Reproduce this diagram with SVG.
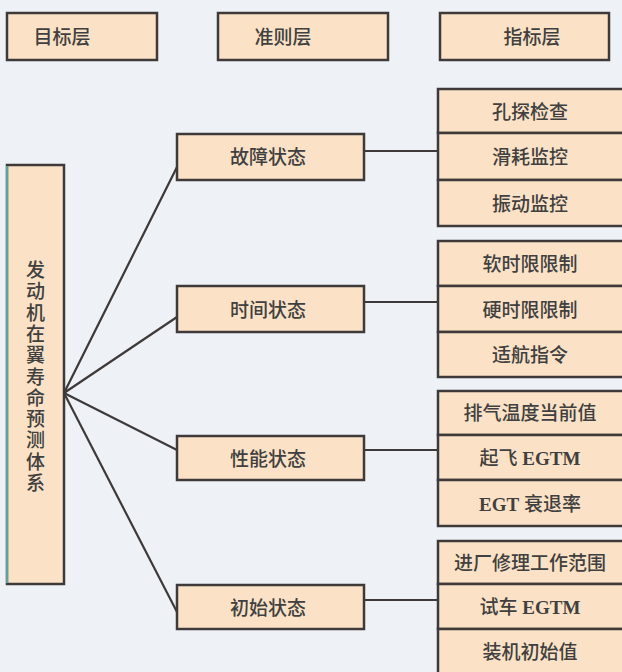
<svg xmlns="http://www.w3.org/2000/svg" width="622" height="672" viewBox="0 0 622 672">
<style>
.box{fill:#fbe2c6;stroke:#3e3a3a;stroke-width:2.5}
.t{font-family:"Liberation Serif","Noto Sans CJK SC",serif;font-size:19px;fill:#404040;font-weight:500;dominant-baseline:central}
.m{text-anchor:middle}
.b{font-weight:bold}
.ln{stroke:#3e3a3a;stroke-width:2.2;fill:none}
</style>
<rect x="0" y="0" width="622" height="672" fill="#eef2f6"/>
<g id="conn">
<line class="ln" x1="64" y1="393" x2="177" y2="167"/>
<line class="ln" x1="64" y1="393" x2="177" y2="317"/>
<line class="ln" x1="64" y1="393" x2="177" y2="450"/>
<line class="ln" x1="64" y1="393" x2="177" y2="612"/>
<line class="ln" x1="364" y1="151" x2="438" y2="151"/>
<line class="ln" x1="364" y1="302" x2="438" y2="302"/>
<line class="ln" x1="364" y1="450" x2="438" y2="450"/>
<line class="ln" x1="364" y1="600" x2="438" y2="600"/>
</g>
<g id="h1"><rect class="box" x="7" y="13" width="150" height="47"/><text class="t m" x="62" y="37">目标层</text></g>
<g id="h2"><rect class="box" x="218" y="13" width="170" height="47"/><text class="t m" x="283" y="37">准则层</text></g>
<g id="h3"><rect class="box" x="440" y="13" width="169" height="47"/><text class="t m" x="532" y="37">指标层</text></g>
<g id="goal"><rect class="box" x="7" y="165" width="57" height="419"/><line x1="7" y1="166" x2="7" y2="583" stroke="#5fa39a" stroke-width="2"/>
<text class="t m" x="35.5"><tspan x="35.5" y="270">发</tspan><tspan x="35.5" y="291.3">动</tspan><tspan x="35.5" y="312.6">机</tspan><tspan x="35.5" y="333.9">在</tspan><tspan x="35.5" y="355.2">翼</tspan><tspan x="35.5" y="376.5">寿</tspan><tspan x="35.5" y="397.8">命</tspan><tspan x="35.5" y="419.1">预</tspan><tspan x="35.5" y="440.4">测</tspan><tspan x="35.5" y="461.7">体</tspan><tspan x="35.5" y="483">系</tspan></text></g>
<g id="c1"><rect class="box" x="177" y="134" width="187" height="46"/><text class="t m" x="268" y="157">故障状态</text></g>
<g id="c2"><rect class="box" x="177" y="286" width="187" height="46"/><text class="t m" x="268" y="310">时间状态</text></g>
<g id="c3"><rect class="box" x="177" y="436" width="187" height="44"/><text class="t m" x="268" y="459">性能状态</text></g>
<g id="c4"><rect class="box" x="177" y="585" width="187" height="44"/><text class="t m" x="268" y="608">初始状态</text></g>
<g id="i1"><rect class="box" x="438" y="89" width="190" height="44"/><text class="t m" x="530" y="112">孔探检查</text></g>
<g id="i2"><rect class="box" x="438" y="133" width="190" height="47"/><text class="t m" x="530" y="157">滑耗监控</text></g>
<g id="i3"><rect class="box" x="438" y="180" width="190" height="46"/><text class="t m" x="530" y="204">振动监控</text></g>
<g id="i4"><rect class="box" x="438" y="241" width="190" height="45"/><text class="t m" x="530" y="264">软时限限制</text></g>
<g id="i5"><rect class="box" x="438" y="286" width="190" height="46"/><text class="t m" x="530" y="310">硬时限限制</text></g>
<g id="i6"><rect class="box" x="438" y="332" width="190" height="45"/><text class="t m" x="530" y="355">适航指令</text></g>
<g id="i7"><rect class="box" x="438" y="391" width="190" height="44"/><text class="t m" x="530" y="413">排气温度当前值</text></g>
<g id="i8"><rect class="box" x="438" y="435" width="190" height="45"/><text class="t m" x="530" y="458">起飞 <tspan class="b">EGTM</tspan></text></g>
<g id="i9"><rect class="box" x="438" y="480" width="190" height="46"/><text class="t m" x="530" y="504"><tspan class="b">EGT</tspan> 衰退率</text></g>
<g id="i10"><rect class="box" x="438" y="541" width="190" height="43"/><text class="t m" x="530" y="563">进厂修理工作范围</text></g>
<g id="i11"><rect class="box" x="438" y="584" width="190" height="45"/><text class="t m" x="530" y="607">试车 <tspan class="b">EGTM</tspan></text></g>
<g id="i12"><rect class="box" x="438" y="629" width="190" height="50"/><text class="t m" x="530" y="652">装机初始值</text></g>
</svg>
